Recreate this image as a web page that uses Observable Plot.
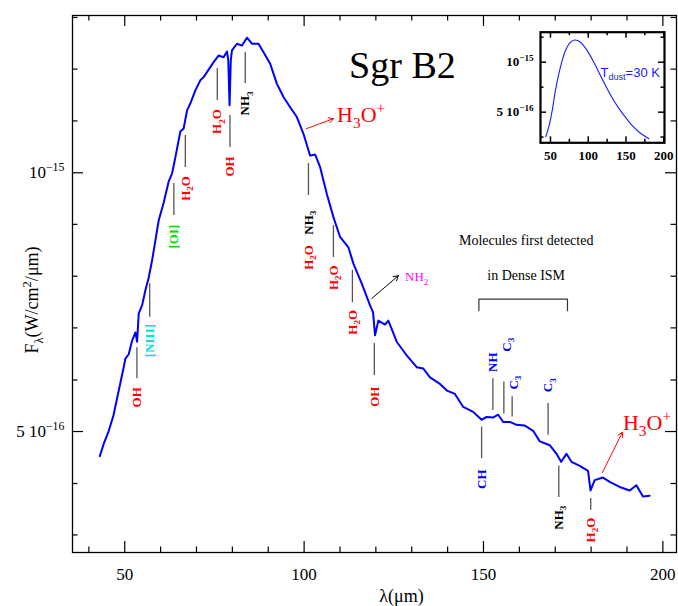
<!DOCTYPE html>
<html>
<head>
<meta charset="utf-8">
<script src="https://cdn.jsdelivr.net/npm/d3@7"></script>
<script src="https://cdn.jsdelivr.net/npm/@observablehq/plot@0.6"></script>
<style>
  body { margin: 0; background: white; }
  #c { position: relative; width: 678px; height: 606px; overflow: hidden; }
</style>
</head>
<body>
<div id="c"></div>
<script>
// ---- Spectrum (wavelength in μm, flux in units of 1e-16 W/cm²/μm) ----
const lambda = [43.04,44.16,45.55,46.85,48.33,49.64,50.19,51.11,52.06,52.98,53.45,53.90,54.84,55.76,56.68,57.63,58.54,59.46,60.85,62.25,63.19,64.11,65.50,66.42,67.37,68.29,69.68,71.07,71.99,73.85,74.77,76.16,77.55,78.50,78.86,79.22,79.56,79.89,81.28,82.67,84.07,85.46,87.29,88.69,90.55,92.42,94.25,96.12,97.98,99.82,101.21,101.68,103.08,104.47,106.33,108.17,110.03,112.34,113.74,116.07,118.38,119.22,119.77,120.69,122.56,123.48,125.81,128.60,131.38,133.22,135.08,137.87,139.81,142.04,144.35,147.13,149.47,150.86,152.62,154.09,155.48,157.35,159.21,161.52,163.83,165.70,168.48,170.35,171.63,173.13,174.52,176.83,179.14,179.84,181.00,183.31,185.18,187.96,190.75,192.61,194.45,196.31];
const flux = [4.68,4.84,5.01,5.22,5.58,5.92,6.08,6.15,6.38,6.52,6.36,6.86,7.01,7.30,7.55,7.91,8.34,8.80,9.23,9.77,9.98,10.42,11.17,11.26,11.82,12.04,12.47,12.81,12.92,13.27,13.45,13.69,13.63,13.84,13.51,11.98,13.51,13.88,14.13,14.06,14.36,14.13,14.13,13.81,13.39,12.69,12.25,11.92,11.61,11.10,10.62,10.47,10.50,10.15,9.45,8.88,8.42,8.19,7.84,7.43,7.01,6.88,6.47,6.73,6.66,6.73,6.36,6.13,5.94,5.92,5.78,5.68,5.58,5.53,5.34,5.27,5.16,5.20,5.19,5.23,5.13,5.13,5.09,5.08,5.01,4.87,4.82,4.71,4.61,4.71,4.61,4.56,4.50,4.27,4.39,4.42,4.37,4.31,4.27,4.33,4.20,4.21];

// ---- Line identifications ----
const labelText = ["OH","[NIII]","[OI]","H_{2}O","H_{2}O","OH","NH_{3}","NH_{3}","H_{2}O","H_{2}O","H_{2}O","OH","CH","NH","C_{3}","C_{3}","C_{3}","NH_{3}","H_{2}O"];
const labelX = [53.40,56.96,63.69,66.89,75.80,79.33,83.59,101.21,101.21,108.17,113.46,119.58,149.47,152.62,156.51,158.32,168.01,170.99,179.89];
const labelY = [5.48,6.38,8.43,9.59,11.47,10.17,12.04,8.75,7.97,7.55,6.70,5.49,4.40,6.02,6.31,5.70,5.66,3.97,3.84];

const lineX = [53.40,56.96,63.69,66.89,75.80,79.33,83.59,101.21,108.17,113.46,119.58,149.47,152.62,155.68,157.99,168.01,170.99,179.89];
const lineTop = [6.26,7.43,9.72,11.05,13.22,11.66,13.80,10.25,8.68,7.70,6.33,5.06,5.76,5.71,5.49,5.39,4.56,4.18];
const lineBottom = [5.76,6.79,8.92,10.14,12.14,10.70,12.70,9.41,7.97,7.06,5.81,4.65,5.29,5.24,5.20,4.95,4.19,4.05];

// arrows: NH2, H3O+ (upper), H3O+ (lower)
const arrowName = ["NH_{2}", "H_{3}O^{+}", "H_{3}O^{+}"];
const arrowX1 = [118.86, 100.57, 183.15];
const arrowY1 = [7.14, 11.25, 4.48];
const arrowX2 = [126.26, 108.17, 188.71];
const arrowY2 = [7.59, 11.56, 4.99];
const arrowLabelX = [128.12, 109.20, 188.88];
const arrowLabelY = [7.56, 11.66, 5.11];

// bracket "Molecules first detected in Dense ISM"
const bracketX = [148.72, 173.41];
const bracketTop = 7.13, bracketBottom = 6.91;
const noteText = ["Molecules first detected", "in Dense ISM"];
const noteX = 161.9;
const noteY = [8.33, 7.60];

// ticks
const xMajor = [50, 100, 150, 200];
const xMinor = [40, 60, 70, 80, 90, 110, 120, 130, 140, 160, 170, 180, 190];
const yMajor = [5, 10];
const yMinor = [3.79, 4.35, 5.74, 6.60, 7.58, 8.71, 11.49, 13.20, 15.16];
const yTickLabel = {10: "10^{−15}", 5: "5 10^{−16}"};

// ---- Inset: T_dust = 30 K modified blackbody ----
const insetLambda = [43.8,47.7,52.3,56.6,63.2,69.9,76.5,82.2,89.7,98.6,107.4,116.2,125.1,133.8,142.7,151.6,160.3,169.2,180.2];
const insetFlux = [3.56,4.06,5.11,6.76,9.33,11.75,13.2,13.6,13.2,11.75,10.0,8.32,6.92,5.88,5.11,4.52,4.06,3.73,3.46];
const insetXMajor = [50, 100, 150, 200];
const insetXMinor = [75, 125, 175];
const insetYMajor = [5, 10];
const insetYMinor = [3.54, 7.07, 14.14];

// ---- styles ----
const speciesColor = {
  "OH": "#ff0000", "H_{2}O": "#ff0000", "NH_{3}": "#000000",
  "[OI]": "#00dd00", "[NIII]": "#00e0e0",
  "CH": "#0000ff", "NH": "#0000ff", "C_{3}": "#0000ff",
  "NH_{2}": "#ff00ff", "H_{3}O^{+}": "#ff0000"
};
const arrowColor = {"NH_{2}": "#000000", "H_{3}O^{+}": "#ff0000"};

const W = 678, H = 606;
const mL = 72, mR = 2, mT = 15, mB = 54;
const fW = W - mL - mR, fH = H - mT - mB;
const serif = "'Liberation Serif', 'DejaVu Serif', serif";

const labels = labelText.map((t, i) => ({t, x: labelX[i], y: labelY[i]}));
const idLines = lineX.map((x, i) => ({x, y1: lineTop[i], y2: lineBottom[i]}));
const arrows = arrowName.map((n, i) => ({n, x1: arrowX1[i], y1: arrowY1[i], x2: arrowX2[i], y2: arrowY2[i], lx: arrowLabelX[i], ly: arrowLabelY[i]}));
const bracket = [
  {x: bracketX[0], y: bracketBottom}, {x: bracketX[0], y: bracketTop},
  {x: bracketX[1], y: bracketTop}, {x: bracketX[1], y: bracketBottom}
];
const spectrum = lambda.map((l, i) => ({l, f: flux[i]}));

const main = Plot.plot({
  width: W, height: H,
  marginLeft: mL, marginRight: mR, marginTop: mT, marginBottom: mB,
  style: {fontFamily: serif, background: "white"},
  x: {domain: [35.44, 203.8]},
  y: {type: "log", domain: [3.616, 15.24]},
  color: {type: "identity"},
  marks: [
    // inward ticks on four sides
    Plot.tickX(xMajor, {x: d => d, insetTop: fH - 11, stroke: "black", strokeWidth: 1.2}),
    Plot.tickX(xMinor, {x: d => d, insetTop: fH - 5.5, stroke: "black", strokeWidth: 1.2}),
    Plot.tickX(xMajor, {x: d => d, insetBottom: fH - 11, stroke: "black", strokeWidth: 1.2}),
    Plot.tickX(xMinor, {x: d => d, insetBottom: fH - 5.5, stroke: "black", strokeWidth: 1.2}),
    Plot.tickY(yMajor, {y: d => d, insetRight: fW - 11, stroke: "black", strokeWidth: 1.2}),
    Plot.tickY(yMinor, {y: d => d, insetRight: fW - 5.5, stroke: "black", strokeWidth: 1.2}),
    Plot.tickY(yMajor, {y: d => d, insetLeft: fW - 11, stroke: "black", strokeWidth: 1.2}),
    Plot.tickY(yMinor, {y: d => d, insetLeft: fW - 5.5, stroke: "black", strokeWidth: 1.2}),
    Plot.frame({stroke: "black", strokeWidth: 1.3}),
    Plot.axisX({ticks: xMajor, tickSize: 0, tickPadding: 15, fontSize: 17, label: null}),
    Plot.axisY({ticks: yMajor, tickSize: 0, tickPadding: 8, fontSize: 17, label: null,
                tickFormat: d => yTickLabel[d]}),
    Plot.text(["F_{λ}(W/cm^{2}/μm)"], {text: d => d, frameAnchor: "left", textAnchor: "middle",
                lineAnchor: "middle", dx: -40, dy: 16, rotate: -90, fontSize: 18}),
    Plot.text(["λ(μm)"], {text: d => d, frameAnchor: "bottom", textAnchor: "middle",
                lineAnchor: "middle", dx: 27, dy: 44, fontSize: 18}),
    // identification lines
    Plot.ruleX(idLines, {x: "x", y1: "y1", y2: "y2", stroke: "#555", strokeWidth: 1.3}),
    // spectrum
    Plot.line(spectrum, {x: "l", y: "f", stroke: "#0000ff", strokeWidth: 2}),
    // labels
    Plot.text(labels, {x: "x", y: "y", text: "t", rotate: -90, fill: d => speciesColor[d.t],
                fontWeight: "bold", fontSize: 13}),
    Plot.arrow(arrows, {x1: "x1", y1: "y1", x2: "x2", y2: "y2", stroke: d => arrowColor[d.n],
                strokeWidth: 1, headLength: 8}),
    Plot.text(arrows, {x: "lx", y: "ly", text: "n", textAnchor: "start",
                fill: d => speciesColor[d.n],
                fontSize: d => d.n === "NH_{2}" ? 13 : 22,
                fontWeight: d => d.n === "NH_{2}" ? "bold" : "normal"}),
    Plot.line(bracket, {x: "x", y: "y", stroke: "#333", strokeWidth: 1.2}),
    Plot.text(noteText, {x: noteX, y: (d, i) => noteY[i], text: d => d, fontSize: 14}),
    Plot.text(["Sgr B2"], {x: 127.4, y: 13.30, text: d => d, fontSize: 38})
  ]
});

const inset = Plot.plot({
  width: 198, height: 150,
  marginLeft: 60, marginRight: 14, marginTop: 11.7, marginBottom: 27.7,
  style: {fontFamily: serif, background: "transparent"},
  x: {domain: [36.8, 201]},
  y: {type: "log", domain: [3.27, 15.16]},
  marks: [
    Plot.tickX(insetXMajor, {x: d => d, insetTop: 110.6 - 6, stroke: "black", strokeWidth: 1.5}),
    Plot.tickX(insetXMinor, {x: d => d, insetTop: 110.6 - 3.5, stroke: "black", strokeWidth: 1.5}),
    Plot.tickX(insetXMajor, {x: d => d, insetBottom: 110.6 - 6, stroke: "black", strokeWidth: 1.5}),
    Plot.tickX(insetXMinor, {x: d => d, insetBottom: 110.6 - 3.5, stroke: "black", strokeWidth: 1.5}),
    Plot.tickY(insetYMajor, {y: d => d, insetRight: 124 - 6, stroke: "black", strokeWidth: 1.5}),
    Plot.tickY(insetYMinor, {y: d => d, insetRight: 124 - 3.5, stroke: "black", strokeWidth: 1.5}),
    Plot.tickY(insetYMajor, {y: d => d, insetLeft: 124 - 6, stroke: "black", strokeWidth: 1.5}),
    Plot.tickY(insetYMinor, {y: d => d, insetLeft: 124 - 3.5, stroke: "black", strokeWidth: 1.5}),
    Plot.frame({stroke: "black", strokeWidth: 2.2}),
    Plot.axisX({ticks: insetXMajor, tickSize: 0, tickPadding: 8, fontSize: 13, fontWeight: "bold", label: null}),
    Plot.axisY({ticks: insetYMajor, tickSize: 0, tickPadding: 7, fontSize: 13, fontWeight: "bold", label: null,
                tickFormat: d => yTickLabel[d]}),
    Plot.line(insetLambda.map((l, i) => ({l, f: insetFlux[i]})),
              {x: "l", y: "f", stroke: "#1a1aff", strokeWidth: 1.1, curve: "catmull-rom"}),
    Plot.text(["T_{dust}=30 K"], {x: 116.2, y: 8.61, text: d => d, textAnchor: "start",
              fill: "#1a1aff", fontSize: 13, fontFamily: "'Liberation Sans', Arial, sans-serif"})
  ]
});
inset.style.position = "absolute";
inset.style.left = "480px";
inset.style.top = "20px";
inset.style.maxWidth = "none";

const c = document.getElementById("c");
c.appendChild(main);
c.appendChild(inset);

// Convert ^{..} and _{..} markup into real super/subscript tspans
function richify(svg) {
  const NS = "http://www.w3.org/2000/svg";
  svg.querySelectorAll("text").forEach(t => {
    const targets = t.querySelector("tspan") ? Array.from(t.querySelectorAll("tspan")) : [t];
    targets.forEach(el => {
      const s = el.textContent;
      if (!/[\^_]\{/.test(s)) return;
      const fs = parseFloat(getComputedStyle(el).fontSize) || 12;
      el.textContent = "";
      const re = /([\^_])\{([^}]*)\}|([^\^_]+)/g;
      let m, shift = 0;
      while ((m = re.exec(s))) {
        const ts = document.createElementNS(NS, "tspan");
        let target = 0, txt = m[3];
        if (m[1]) {
          txt = m[2];
          target = m[1] === "^" ? -0.42 * fs : 0.25 * fs;
          ts.setAttribute("font-size", (0.7 * fs).toFixed(1));
        }
        ts.setAttribute("dy", (target - shift).toFixed(2));
        shift = target;
        ts.textContent = txt;
        el.appendChild(ts);
      }
    });
  });
}
richify(main);
richify(inset);
</script>
</body>
</html>
